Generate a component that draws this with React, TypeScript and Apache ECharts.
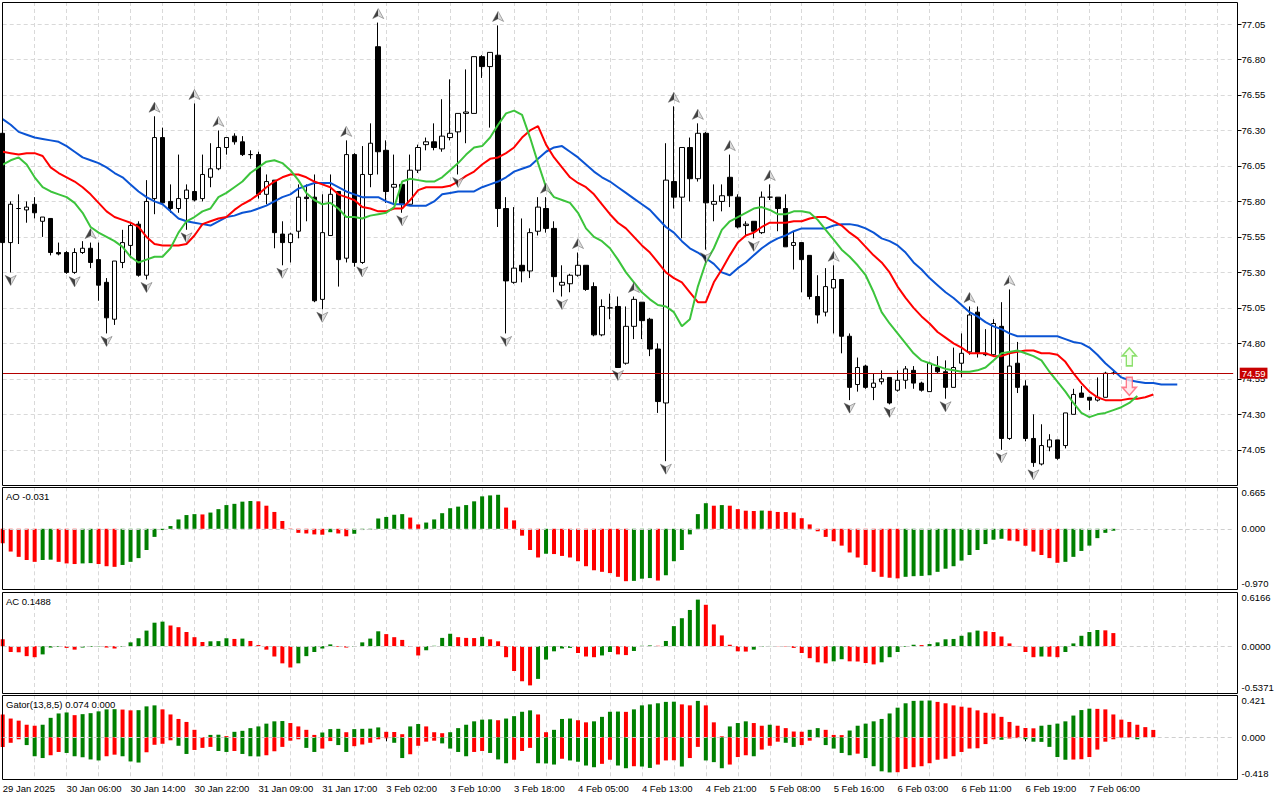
import React, { useEffect, useRef } from 'react';
import * as echarts from 'echarts';

const xTickLabels = ['29 Jan 2025', '30 Jan 06:00', '30 Jan 14:00', '30 Jan 22:00', '31 Jan 09:00', '31 Jan 17:00', '3 Feb 02:00', '3 Feb 10:00', '3 Feb 18:00', '4 Feb 05:00', '4 Feb 13:00', '4 Feb 21:00', '5 Feb 08:00', '5 Feb 16:00', '6 Feb 03:00', '6 Feb 11:00', '6 Feb 19:00', '7 Feb 06:00'];

const opens = [
  76.28, 75.51, 75.75, 75.74, 75.78, 75.66, 75.68, 75.44, 75.44, 75.30,
  75.44, 75.47, 75.39, 75.23, 74.97, 75.37, 75.49, 75.64, 75.28, 75.82,
  76.25, 75.80, 75.75, 75.82, 75.87, 75.82, 75.97, 76.03, 76.18, 76.26,
  76.22, 76.13, 76.13, 75.85, 75.95, 75.57, 75.51, 75.59, 75.83, 75.83,
  75.11, 75.56, 75.87, 75.40, 76.13, 75.37, 75.99, 76.89, 76.16, 75.90,
  75.92, 75.78, 76.02, 76.20, 76.22, 76.17, 76.25, 76.29, 76.42, 76.42,
  76.82, 76.75, 76.83, 75.75, 75.23, 75.35, 75.31, 75.59, 75.75, 75.61,
  75.21, 75.22, 75.28, 75.35, 75.20, 74.86, 75.05, 75.06, 74.66, 74.92,
  75.09, 74.97, 74.76, 74.38, 75.94, 75.83, 76.18, 75.96, 76.28, 75.78,
  75.80, 75.97, 75.83, 75.63, 75.66, 75.58, 75.83, 75.83, 75.75, 75.49,
  75.51, 75.42, 75.13, 75.02, 75.19, 75.25, 74.85, 74.51, 74.64, 74.49,
  74.53, 74.56, 74.47, 74.54, 74.61, 74.52, 74.46, 74.63, 74.60, 74.49,
  74.66, 74.74, 75.02, 74.73, 74.72, 74.92, 74.13, 74.66, 74.50, 74.13,
  73.95, 74.07, 74.12, 74.08, 74.30, 74.45, 74.42, 74.40, 74.42, 74.59,
];
const highs = [
  76.30, 75.80, 75.85, 75.80, 75.83, 75.69, 75.68, 75.51, 75.45, 75.47,
  75.52, 75.51, 75.51, 75.26, 75.38, 75.60, 75.65, 75.66, 75.95, 76.40,
  76.32, 75.92, 76.13, 75.92, 76.49, 76.13, 76.21, 76.30, 76.25, 76.28,
  76.26, 76.16, 76.15, 75.99, 75.95, 75.66, 75.58, 75.92, 75.92, 75.99,
  75.85, 75.99, 75.87, 76.23, 76.14, 76.19, 76.35, 77.06, 76.23, 76.13,
  75.92, 76.13, 76.20, 76.25, 76.35, 76.52, 76.66, 76.42, 76.73, 76.82,
  76.83, 76.85, 77.04, 75.83, 75.76, 75.68, 75.61, 75.83, 75.83, 75.66,
  75.35, 75.29, 75.44, 75.35, 75.23, 75.11, 75.15, 75.13, 75.06, 75.13,
  75.09, 74.98, 74.80, 76.21, 76.47, 76.18, 76.25, 76.35, 76.29, 75.92,
  75.92, 76.13, 75.85, 75.66, 75.66, 75.87, 75.92, 75.83, 75.85, 75.59,
  75.51, 75.42, 75.28, 75.33, 75.35, 75.25, 74.87, 74.70, 74.65, 74.59,
  74.61, 74.56, 74.61, 74.64, 74.64, 74.53, 74.67, 74.71, 74.68, 74.77,
  74.87, 75.06, 75.06, 74.90, 74.97, 75.09, 75.18, 74.81, 74.54, 74.30,
  74.23, 74.16, 74.12, 74.31, 74.48, 74.50, 74.42, 74.56, 74.60, 74.61,
];
const lows = [
  75.47, 75.30, 75.50, 75.65, 75.68, 75.55, 75.42, 75.42, 75.29, 75.29,
  75.43, 75.33, 75.10, 74.87, 74.93, 75.33, 75.40, 75.27, 75.25, 75.71,
  75.78, 75.72, 75.72, 75.60, 75.80, 75.80, 75.90, 76.02, 76.13, 76.20,
  76.12, 76.10, 75.82, 75.78, 75.47, 75.35, 75.37, 75.54, 75.66, 75.09,
  75.04, 75.56, 75.20, 75.37, 75.34, 75.36, 75.90, 75.99, 75.79, 75.79,
  75.72, 75.77, 76.00, 76.16, 76.16, 76.15, 76.23, 75.99, 76.21, 76.42,
  76.67, 76.32, 75.62, 74.87, 75.22, 75.23, 75.26, 75.56, 75.58, 75.16,
  75.13, 75.16, 75.27, 75.17, 74.85, 74.85, 74.97, 74.63, 74.65, 74.83,
  74.83, 74.71, 74.31, 73.97, 75.75, 75.54, 75.80, 75.94, 75.46, 75.66,
  75.73, 75.76, 75.61, 75.56, 75.54, 75.57, 75.81, 75.59, 75.48, 75.32,
  75.16, 75.11, 74.94, 74.99, 74.87, 74.73, 74.40, 74.46, 74.48, 74.40,
  74.51, 74.37, 74.46, 74.48, 74.48, 74.46, 74.46, 74.59, 74.41, 74.49,
  74.56, 74.72, 74.70, 74.71, 74.71, 74.05, 74.12, 74.45, 74.11, 73.93,
  73.94, 74.04, 73.98, 74.06, 74.30, 74.42, 74.33, 74.39, 74.42, 74.58,
];
const closes = [
  75.51, 75.78, 75.75, 75.76, 75.72, 75.69, 75.44, 75.43, 75.30, 75.44,
  75.47, 75.37, 75.21, 74.98, 75.38, 75.51, 75.63, 75.28, 75.80, 76.25,
  75.79, 75.75, 75.82, 75.88, 75.81, 75.99, 76.03, 76.18, 76.25, 76.22,
  76.13, 76.13, 75.85, 75.94, 75.58, 75.51, 75.57, 75.83, 75.82, 75.10,
  75.58, 75.85, 75.39, 76.13, 75.37, 75.99, 76.21, 76.15, 75.87, 75.92,
  75.78, 76.02, 76.18, 76.22, 76.18, 76.26, 76.28, 76.42, 76.43, 76.82,
  76.75, 76.85, 75.75, 75.24, 75.33, 75.31, 75.58, 75.76, 75.61, 75.27,
  75.23, 75.28, 75.35, 75.18, 74.86, 75.06, 75.05, 74.63, 74.92, 75.11,
  74.96, 74.76, 74.39, 75.95, 75.83, 76.18, 75.96, 76.28, 75.79, 75.80,
  75.84, 75.84, 75.62, 75.64, 75.59, 75.83, 75.83, 75.75, 75.48, 75.51,
  75.39, 75.13, 75.00, 75.20, 75.25, 74.85, 74.49, 74.63, 74.49, 74.52,
  74.55, 74.38, 74.54, 74.62, 74.52, 74.47, 74.66, 74.60, 74.49, 74.63,
  74.73, 75.00, 74.73, 74.72, 74.94, 74.13, 74.64, 74.49, 74.13, 73.96,
  74.08, 74.12, 73.99, 74.31, 74.44, 74.42, 74.40, 74.42, 74.59, 74.59,
];

// Alligator (jaw shifted 8, teeth 5, lips 3 bars into the future)
const jaw = [
  76.38, 76.34, 76.29, 76.27, 76.25, 76.24, 76.23, 76.22, 76.19, 76.15,
  76.11, 76.09, 76.07, 76.04, 76.00, 75.97, 75.92, 75.87, 75.83, 75.80,
  75.78, 75.73, 75.68, 75.66, 75.65, 75.64, 75.63, 75.66, 75.69, 75.70,
  75.72, 75.73, 75.75, 75.77, 75.80, 75.83, 75.85, 75.89, 75.91, 75.93,
  75.93, 75.93, 75.90, 75.87, 75.85, 75.83, 75.83, 75.83, 75.80, 75.78,
  75.78, 75.77, 75.77, 75.77, 75.80, 75.85, 75.86, 75.87, 75.87, 75.87,
  75.90, 75.92, 75.94, 75.97, 76.01, 76.03, 76.05, 76.10, 76.15, 76.18,
  76.19, 76.15, 76.11, 76.06, 76.01, 75.97, 75.94, 75.90, 75.86, 75.82,
  75.78, 75.74, 75.68, 75.62, 75.58, 75.52, 75.47, 75.44, 75.40, 75.36,
  75.30, 75.28, 75.33, 75.37, 75.42, 75.47, 75.51, 75.54, 75.56, 75.59,
  75.61, 75.61, 75.61, 75.61, 75.63, 75.64, 75.64, 75.63, 75.61, 75.58,
  75.54, 75.52, 75.49, 75.44, 75.37, 75.32, 75.26, 75.21, 75.16, 75.12,
  75.07, 75.02, 74.99, 74.95, 74.92, 74.90, 74.87, 74.85, 74.85, 74.85,
  74.85, 74.85, 74.85, 74.83, 74.81, 74.80, 74.77, 74.72, 74.66, 74.61,
  74.56, 74.54, 74.53, 74.52, 74.52, 74.51, 74.51, 74.51,
];
const teeth = [
  76.15, 76.14, 76.13, 76.14, 76.14, 76.12, 76.04, 76.00, 75.97, 75.94,
  75.90, 75.85, 75.79, 75.73, 75.69, 75.67, 75.65, 75.62, 75.55, 75.50,
  75.49, 75.49, 75.49, 75.50, 75.56, 75.64, 75.66, 75.68, 75.69, 75.74,
  75.78, 75.81, 75.85, 75.90, 75.94, 75.97, 75.99, 75.99, 75.97, 75.94,
  75.92, 75.90, 75.85, 75.83, 75.81, 75.76, 75.75, 75.73, 75.73, 75.75,
  75.75, 75.81, 75.88, 75.90, 75.90, 75.90, 75.91, 75.94, 75.98, 76.01,
  76.06, 76.10, 76.11, 76.14, 76.18, 76.25, 76.30, 76.33, 76.20, 76.11,
  76.04, 75.97, 75.93, 75.90, 75.85, 75.78, 75.71, 75.65, 75.61, 75.55,
  75.49, 75.44, 75.37, 75.30, 75.26, 75.23, 75.16, 75.09, 75.09, 75.23,
  75.32, 75.42, 75.51, 75.56, 75.58, 75.62, 75.65, 75.65, 75.65, 75.66,
  75.66, 75.68, 75.69, 75.69, 75.66, 75.63, 75.58, 75.54, 75.48, 75.42,
  75.37, 75.30, 75.20, 75.12, 75.05, 74.99, 74.94, 74.88, 74.84, 74.80,
  74.77, 74.73, 74.73, 74.73, 74.71, 74.71, 74.73, 74.74, 74.75, 74.75,
  74.73, 74.73, 74.72, 74.67, 74.59, 74.52, 74.46, 74.42, 74.40, 74.40,
  74.40, 74.41, 74.41, 74.42, 74.44,
];
const lips = [
  76.06, 76.09, 76.11, 76.06, 75.97, 75.90, 75.87, 75.85, 75.83, 75.79,
  75.72, 75.62, 75.58, 75.55, 75.52, 75.48, 75.41, 75.37, 75.39, 75.41,
  75.41, 75.47, 75.58, 75.66, 75.69, 75.73, 75.75, 75.83, 75.86, 75.90,
  75.94, 76.00, 76.04, 76.08, 76.09, 76.07, 76.02, 75.95, 75.86, 75.81,
  75.78, 75.79, 75.75, 75.69, 75.69, 75.68, 75.70, 75.71, 75.72, 75.76,
  75.94, 75.96, 75.95, 75.94, 75.94, 75.97, 76.02, 76.07, 76.13, 76.18,
  76.19, 76.25, 76.34, 76.42, 76.44, 76.41, 76.25, 76.07, 75.90, 75.83,
  75.81, 75.79, 75.72, 75.61, 75.55, 75.52, 75.47, 75.39, 75.30, 75.23,
  75.16, 75.11, 75.07, 75.06, 75.02, 74.92, 74.97, 75.20, 75.37, 75.47,
  75.60, 75.66, 75.69, 75.72, 75.75, 75.76, 75.74, 75.71, 75.71, 75.73,
  75.73, 75.72, 75.67, 75.60, 75.53, 75.46, 75.41, 75.35, 75.28, 75.16,
  75.02, 74.94, 74.87, 74.80, 74.73, 74.68, 74.66, 74.64, 74.62, 74.61,
  74.60, 74.60, 74.61, 74.63, 74.68, 74.73, 74.74, 74.75, 74.73, 74.71,
  74.68, 74.60, 74.53, 74.46, 74.38, 74.31, 74.28, 74.30, 74.31, 74.33,
  74.35, 74.38, 74.43,
];

const fractalUpBars = [11, 19, 24, 27, 43, 47, 62, 68, 72, 79, 84, 87, 91, 96, 104, 121, 126];
const fractalDownBars = [1, 9, 13, 18, 23, 35, 40, 45, 50, 57, 63, 70, 77, 83, 88, 94, 106, 111, 118, 125, 129];

const lastPrice = 74.59;
const signalBars = [141];
const signalUpPrices = [74.705];
const signalDownPrices = [74.497];

const ao = [
  -0.23, -0.365, -0.45, -0.5, -0.53, -0.5, -0.495, -0.53, -0.555, -0.565,
  -0.555, -0.55, -0.565, -0.6, -0.61, -0.58, -0.53, -0.47, -0.34, -0.13,
  -0.02, 0.044, 0.15, 0.22, 0.235, 0.23, 0.26, 0.315, 0.38, 0.4,
  0.435, 0.445, 0.44, 0.37, 0.27, 0.125, 0.005, -0.065, -0.075, -0.09,
  -0.095, -0.055, -0.075, -0.12, -0.08, -0.02, -0.01, 0.165, 0.19, 0.225,
  0.235, 0.18, 0.07, 0.1, 0.15, 0.25, 0.33, 0.355, 0.38, 0.44,
  0.52, 0.535, 0.545, 0.34, 0.135, -0.11, -0.34, -0.46, -0.4, -0.405,
  -0.435, -0.46, -0.52, -0.6, -0.665, -0.69, -0.71, -0.77, -0.84, -0.835,
  -0.8, -0.79, -0.83, -0.745, -0.52, -0.34, -0.09, 0.235, 0.41, 0.37,
  0.38, 0.37, 0.315, 0.29, 0.285, 0.292, 0.288, 0.27, 0.268, 0.26,
  0.17, 0.07, -0.04, -0.13, -0.2, -0.27, -0.38, -0.46, -0.58, -0.69,
  -0.77, -0.785, -0.795, -0.77, -0.76, -0.755, -0.745, -0.69, -0.64, -0.6,
  -0.51, -0.42, -0.34, -0.245, -0.175, -0.16, -0.19, -0.2, -0.27, -0.365,
  -0.42, -0.47, -0.545, -0.53, -0.45, -0.355, -0.27, -0.15, -0.065, -0.031,
];
const ac = [
  0.078, -0.067, -0.07, -0.114, -0.126, -0.094, -0.016, -0.008, -0.02, -0.04,
  -0.016, -0.008, -0.004, -0.016, -0.027, -0.008, 0.043, 0.09, 0.177, 0.267,
  0.279, 0.235, 0.216, 0.161, 0.102, 0.047, 0.055, 0.057, 0.09, 0.082,
  0.086, 0.059, 0.012, -0.04, -0.118, -0.196, -0.243, -0.196, -0.114, -0.067,
  -0.027, 0.02, -0.008, -0.016, -0.008, 0.043, 0.086, 0.169, 0.137, 0.102,
  0.071, -0.008, -0.106, -0.047, 0.004, 0.094, 0.141, 0.102, 0.094, 0.092,
  0.106, 0.078, 0.055, -0.126, -0.283, -0.4, -0.447, -0.373, -0.153, -0.059,
  -0.027, -0.02, -0.078, -0.118, -0.126, -0.106, -0.067, -0.094, -0.102, -0.055,
  0.004, 0.008, 0.004, 0.059, 0.228, 0.318, 0.412, 0.53, 0.471, 0.247,
  0.122, 0.016, -0.059, -0.062, -0.04, -0.008, 0.002, -0.002, -0.004, -0.02,
  -0.078, -0.137, -0.184, -0.196, -0.173, -0.149, -0.173, -0.175, -0.192, -0.208,
  -0.184, -0.126, -0.067, -0.008, 0.016, 0.012, 0.024, 0.043, 0.078, 0.082,
  0.118, 0.157, 0.177, 0.169, 0.161, 0.11, 0.031, -0.002, -0.067, -0.126,
  -0.118, -0.12, -0.126, -0.067, 0.031, 0.118, 0.161, 0.184, 0.18, 0.1488,
];
const gatorUp = [
  0.229, 0.188, 0.167, 0.126, 0.116, 0.126, 0.195, 0.239, 0.249, 0.222,
  0.232, 0.242, 0.26, 0.28, 0.282, 0.278, 0.27, 0.272, 0.31, 0.32,
  0.28, 0.229, 0.184, 0.154, 0.075, 0.003, 0.024, 0.026, 0.012, 0.055,
  0.065, 0.092, 0.109, 0.137, 0.16, 0.163, 0.143, 0.109, 0.075, 0.024,
  0.048, 0.082, 0.085, 0.051, 0.082, 0.085, 0.087, 0.099, 0.055, 0.053,
  0.031, 0.109, 0.133, 0.109, 0.051, 0.041, 0.051, 0.092, 0.126, 0.16,
  0.177, 0.18, 0.171, 0.188, 0.212, 0.256, 0.27, 0.229, 0.051, 0.075,
  0.184, 0.188, 0.171, 0.15, 0.16, 0.205, 0.256, 0.258, 0.255, 0.28,
  0.32, 0.33, 0.341, 0.355, 0.357, 0.33, 0.32, 0.365, 0.32, 0.15,
  0.01, 0.109, 0.143, 0.16, 0.143, 0.116, 0.126, 0.116, 0.092, 0.058,
  0.056, 0.075, 0.092, 0.075, 0.024, 0.022, 0.068, 0.116, 0.137, 0.16,
  0.184, 0.239, 0.297, 0.341, 0.365, 0.367, 0.369, 0.355, 0.341, 0.32,
  0.307, 0.297, 0.27, 0.246, 0.239, 0.205, 0.154, 0.116, 0.092, 0.09,
  0.116, 0.125, 0.137, 0.16, 0.218, 0.273, 0.287, 0.285, 0.28, 0.229,
  0.177, 0.154, 0.126, 0.102, 0.074,
];
const gatorDown = [
  -0.096, -0.055, -0.02, -0.078, -0.19, -0.208, -0.18, -0.147, -0.157, -0.19,
  -0.2, -0.222, -0.232, -0.19, -0.174, -0.19, -0.242, -0.253, -0.15, -0.075,
  -0.065, -0.03, -0.085, -0.167, -0.127, -0.106, -0.096, -0.137, -0.147, -0.137,
  -0.167, -0.19, -0.192, -0.18, -0.14, -0.096, -0.034, -0.02, -0.106, -0.147,
  -0.113, -0.038, -0.078, -0.147, -0.089, -0.072, -0.055, -0.02, -0.01, -0.055,
  -0.208, -0.17, -0.085, -0.044, -0.034, -0.061, -0.113, -0.147, -0.19, -0.147,
  -0.137, -0.157, -0.222, -0.26, -0.225, -0.137, -0.106, -0.26, -0.262, -0.273,
  -0.215, -0.232, -0.245, -0.283, -0.3, -0.266, -0.225, -0.283, -0.31, -0.29,
  -0.293, -0.307, -0.273, -0.232, -0.23, -0.293, -0.208, -0.096, -0.232, -0.249,
  -0.31, -0.273, -0.198, -0.18, -0.19, -0.123, -0.085, -0.044, -0.055, -0.096,
  -0.078, -0.034, -0.003, -0.078, -0.113, -0.157, -0.18, -0.164, -0.208, -0.29,
  -0.341, -0.352, -0.35, -0.317, -0.3, -0.29, -0.26, -0.225, -0.215, -0.19,
  -0.147, -0.113, -0.11, -0.068, -0.02, -0.025, -0.012, -0.008, -0.02, -0.044,
  -0.046, -0.096, -0.198, -0.225, -0.223, -0.22, -0.198, -0.123, -0.044, -0.02,
  -0.005, -0.003, -0.02,
];
const gatorLowerShown = 0;

const GREEN = '#008000';
const RED = '#ff0000';
const GRID_COLOR = '#d9d9d9';
const FONT = 'Liberation Sans';
const FS = 9.5;

const SLOTS = 155;
const GRID_LEFT = 2.7;
const GRID_WIDTH = 1230.5;
const AXIS_X = 1237.5;

const panels = [
  { top: 2, height: 483.3 },
  { top: 487.3, height: 102 },
  { top: 592, height: 101.3 },
  { top: 695.3, height: 83.7 },
];
const frames = [
  [2.5, 485.5],
  [487.5, 589.5],
  [592.5, 693.5],
  [695.5, 779.5],
];

function trendColors(values: number[], useAbs: boolean): string[] {
  return values.map((v, i) => {
    if (i === 0) return RED;
    const a = useAbs ? Math.abs(v) : v;
    const b = useAbs ? Math.abs(values[i - 1]) : values[i - 1];
    return a > b ? GREEN : RED;
  });
}

const isLabelIdx = (i: number) => i % 8 === 0 && i / 8 < xTickLabels.length;

function indicatorAxis(gi: number, min: number, max: number, digits: number) {
  return {
    type: 'value',
    gridIndex: gi,
    position: 'right',
    offset: AXIS_X - (GRID_LEFT + GRID_WIDTH),
    min,
    max,
    interval: -min,
    axisLine: { show: false },
    axisTick: { show: false },
    splitLine: { show: false },
    axisLabel: {
      show: true,
      showMinLabel: true,
      showMaxLabel: true,
      margin: 4,
      color: '#000',
      fontSize: FS,
      fontFamily: FONT,
      lineHeight: 11,
      formatter: (v: number) => {
        if (Math.abs(v - max) < 1e-7) return '\n' + max.toFixed(digits);
        if (Math.abs(v - min) < 1e-7) return min.toFixed(digits) + '\n';
        if (Math.abs(v) < 1e-7) return (0).toFixed(digits);
        return '';
      },
    },
  };
}

const zeroLine = {
  silent: true,
  symbol: 'none',
  label: { show: false },
  lineStyle: { color: '#cfcfcf', type: [4, 3], width: 1 },
  data: [{ yAxis: 0 }],
};

export default function App() {
  const ref = useRef<HTMLDivElement>(null);

  useEffect(() => {
    document.body.style.margin = '0';
    if (!ref.current) return;
    const chart = echarts.init(ref.current, undefined, { renderer: 'svg' });

    const cats = Array.from({ length: SLOTS }, (_, i) => String(i));
    const candleData = opens.map((o, i) => [o, closes[i], lows[i], highs[i]]);
    const aoColors = trendColors(ao, false);
    const acColors = trendColors(ac, false);
    const gUpColors = trendColors(gatorUp, false);
    const gDownColors = trendColors(gatorDown, true);

    const fractalFill = {
      type: 'linear', x: 0, y: 0, x2: 1, y2: 0,
      colorStops: [
        { offset: 0, color: '#111' },
        { offset: 0.5, color: '#111' },
        { offset: 0.5, color: '#d4d4d4' },
        { offset: 1, color: '#d4d4d4' },
      ],
    };

    const xAxes = panels.map((_, gi) => ({
      type: 'category',
      gridIndex: gi,
      data: cats,
      boundaryGap: false,
      axisLine: { show: false },
      axisTick: {
        show: gi === 3,
        interval: (i: number) => isLabelIdx(i),
        length: 4,
        lineStyle: { color: '#000', width: 1 },
      },
      axisLabel: {
        show: gi === 3,
        interval: (i: number) => isLabelIdx(i),
        formatter: (v: string) => {
          const i = Number(v);
          return isLabelIdx(i) ? xTickLabels[i / 8] : '';
        },
        align: 'left',
        margin: 4,
        color: '#000',
        fontSize: FS,
        fontFamily: FONT,
        hideOverlap: false,
      },
      splitLine: {
        show: true,
        interval: (i: number) => i % 4 === 0,
        lineStyle: { color: GRID_COLOR, type: [4, 3], width: 1 },
      },
    }));

    const yAxes: any[] = [
      {
        type: 'value',
        gridIndex: 0,
        position: 'right',
        offset: AXIS_X - (GRID_LEFT + GRID_WIDTH),
        min: 73.8,
        max: 77.205,
        interval: 0.25,
        axisLine: { show: false },
        axisTick: { show: true, length: 4, lineStyle: { color: '#000', width: 1 } },
        axisLabel: {
          showMinLabel: false,
          showMaxLabel: false,
          margin: 4,
          color: '#000',
          fontSize: FS,
          fontFamily: FONT,
          formatter: (v: number) => v.toFixed(2),
        },
        splitLine: { show: true, lineStyle: { color: GRID_COLOR, type: [4, 3], width: 1 } },
      },
      indicatorAxis(1, -0.97, 0.665, 3),
      indicatorAxis(2, -0.5371, 0.6166, 4),
      indicatorAxis(3, -0.418, 0.421, 3),
    ];

    const titleFont = `${FS}px "${FONT}"`;
    const graphics: any[] = frames.map(([y1, y2]) => ({
      type: 'rect',
      silent: true,
      z: 100,
      shape: { x: 2.5, y: y1, width: AXIS_X - 2.5, height: y2 - y1 },
      style: { fill: 'none', stroke: '#000', lineWidth: 1 },
    }));
    const titles = [
      { text: `AO ${ao[ao.length - 1].toFixed(3)}`, y: 496 },
      { text: `AC ${ac[ac.length - 1].toFixed(4)}`, y: 601.5 },
      { text: `Gator(13,8,5) ${gatorUp[gatorUp.length - 1].toFixed(3)} ${gatorLowerShown.toFixed(3)}`, y: 704 },
    ];
    titles.forEach((t) => {
      graphics.push({
        type: 'text',
        z: 101,
        silent: true,
        x: 6,
        y: t.y,
        style: { text: t.text, font: titleFont, fill: '#000', verticalAlign: 'middle' },
      });
    });

    const option: any = {
      animation: false,
      backgroundColor: '#ffffff',
      textStyle: { fontFamily: FONT, fontSize: FS },
      grid: panels.map((p) => ({
        left: GRID_LEFT,
        top: p.top,
        width: GRID_WIDTH,
        height: p.height,
        containLabel: false,
        outerBoundsMode: 'none',
        show: false,
      })),
      xAxis: xAxes,
      yAxis: yAxes,
      graphic: graphics,
      series: [
        {
          type: 'candlestick',
          xAxisIndex: 0,
          yAxisIndex: 0,
          data: candleData,
          barWidth: 5,
          z: 2,
          itemStyle: {
            color: '#ffffff',
            color0: '#000000',
            borderColor: '#000000',
            borderColor0: '#000000',
            borderWidth: 1,
          },
          markLine: {
            silent: true,
            symbol: 'none',
            lineStyle: { color: '#b40000', type: 'solid', width: 1 },
            label: {
              show: true,
              position: 'end',
              distance: 6.5,
              formatter: lastPrice.toFixed(2),
              color: '#ffffff',
              backgroundColor: '#c80000',
              padding: [1, 2, 0, 2],
              fontSize: FS,
              fontFamily: FONT,
            },
            data: [{ yAxis: lastPrice }],
          },
        },
        {
          type: 'line', xAxisIndex: 0, yAxisIndex: 0, data: jaw, showSymbol: false, symbol: 'none', z: 3,
          lineStyle: { color: '#0b54d4', width: 2 },
        },
        {
          type: 'line', xAxisIndex: 0, yAxisIndex: 0, data: teeth, showSymbol: false, symbol: 'none', z: 3,
          lineStyle: { color: '#ff0000', width: 2 },
        },
        {
          type: 'line', xAxisIndex: 0, yAxisIndex: 0, data: lips, showSymbol: false, symbol: 'none', z: 3,
          lineStyle: { color: '#3cc43c', width: 2 },
        },
        {
          type: 'scatter', xAxisIndex: 0, yAxisIndex: 0, z: 5,
          data: fractalUpBars.map((b) => [b, highs[b]]),
          symbol: 'path://M6,0 L12,11 L6,8 L0,11 Z',
          symbolSize: [11, 10],
          symbolOffset: [0, -9],
          itemStyle: { color: fractalFill, borderColor: '#555', borderWidth: 0.6 },
        },
        {
          type: 'scatter', xAxisIndex: 0, yAxisIndex: 0, z: 5,
          data: fractalDownBars.map((b) => [b, lows[b]]),
          symbol: 'path://M0,0 L6,3 L12,0 L6,11 Z',
          symbolSize: [11, 10],
          symbolOffset: [0, 8],
          itemStyle: { color: fractalFill, borderColor: '#555', borderWidth: 0.6 },
        },
        {
          type: 'scatter', xAxisIndex: 0, yAxisIndex: 0, z: 6,
          data: signalBars.map((b, i) => [b, signalUpPrices[i]]),
          symbol: 'path://M7,0 L14,8 L10,8 L10,18 L4,18 L4,8 L0,8 Z',
          symbolSize: [14, 18],
          itemStyle: { color: '#f2ffe8', borderColor: '#6fd84a', borderWidth: 1.5 },
        },
        {
          type: 'scatter', xAxisIndex: 0, yAxisIndex: 0, z: 6,
          data: signalBars.map((b, i) => [b, signalDownPrices[i]]),
          symbol: 'path://M4,0 L10,0 L10,10 L14,10 L7,18 L0,10 L4,10 Z',
          symbolSize: [14, 18],
          itemStyle: { color: '#ffe4ea', borderColor: '#ff5c70', borderWidth: 1.5 },
        },
        {
          type: 'bar', xAxisIndex: 1, yAxisIndex: 1, data: ao, barWidth: 4,
          itemStyle: { color: (p: any) => aoColors[p.dataIndex] },
          markLine: zeroLine,
        },
        {
          type: 'bar', xAxisIndex: 2, yAxisIndex: 2, data: ac, barWidth: 4,
          itemStyle: { color: (p: any) => acColors[p.dataIndex] },
          markLine: zeroLine,
        },
        {
          type: 'bar', xAxisIndex: 3, yAxisIndex: 3, data: gatorUp, barWidth: 4, barGap: '-100%',
          itemStyle: { color: (p: any) => gUpColors[p.dataIndex] },
          markLine: zeroLine,
        },
        {
          type: 'bar', xAxisIndex: 3, yAxisIndex: 3, data: gatorDown, barWidth: 4, barGap: '-100%',
          itemStyle: { color: (p: any) => gDownColors[p.dataIndex] },
        },
      ],
    };

    chart.setOption(option);
    return () => chart.dispose();
  }, []);

  return <div ref={ref} style={{ width: 1280, height: 800, background: '#fff' }} />;
}
